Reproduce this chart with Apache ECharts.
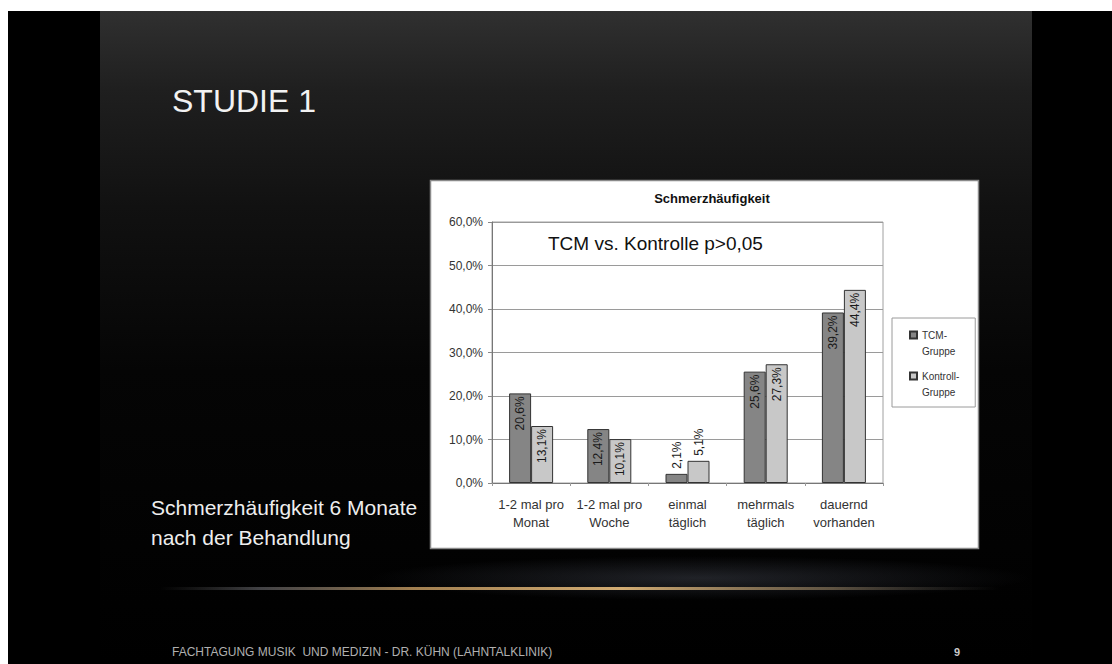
<!DOCTYPE html>
<html>
<head>
<meta charset="utf-8">
<script src="https://cdn.jsdelivr.net/npm/echarts@6/dist/echarts.min.js"></script>
<style>
  html, body { margin: 0; padding: 0; background: #ffffff; }
  #chart { width: 1112px; height: 664px; }
</style>
</head>
<body>
<div id="chart"></div>
<script>
// ---- data ----
const categories = ['1-2 mal pro\nMonat', '1-2 mal pro\nWoche', 'einmal\ntäglich', 'mehrmals\ntäglich', 'dauernd\nvorhanden'];
const seriesNames = ['TCM-Gruppe', 'Kontroll-Gruppe'];
const tcmValues = [20.6, 12.4, 2.1, 25.6, 39.2];
const kontrollValues = [13.1, 10.1, 5.1, 27.3, 44.4];
const yTickLabels = ['0,0%', '10,0%', '20,0%', '30,0%', '40,0%', '50,0%', '60,0%'];
const chartTitle = 'Schmerzhäufigkeit';
const annotation = 'TCM vs. Kontrolle p>0,05';
const slideTitle = 'STUDIE 1';
const captionLines = ['Schmerzhäufigkeit 6 Monate', 'nach der Behandlung'];
const footerText = 'FACHTAGUNG MUSIK  UND MEDIZIN - DR. KÜHN (LAHNTALKLINIK)';
const pageNumber = '9';

const FONT = '"Liberation Sans", Arial, sans-serif';
const fmtPct = v => v.toFixed(1).replace('.', ',') + '%';

function barData(values) {
  return values.map(v => {
    const outside = v < 8;
    return {
      value: v,
      label: outside
        ? { position: 'top', align: 'left', verticalAlign: 'middle', distance: 5 }
        : { position: 'insideTop', align: 'right', verticalAlign: 'middle', distance: 3 }
    };
  });
}

const chart = echarts.init(document.getElementById('chart'), null, { renderer: 'svg' });

const labelCommon = {
  show: true,
  rotate: 90,
  fontSize: 12,
  fontFamily: FONT,
  color: '#1a1a1a',
  formatter: p => fmtPct(p.value)
};

const option = {
  animation: false,
  backgroundColor: '#ffffff',
  title: {
    text: chartTitle,
    left: 707,
    top: 187,
    textAlign: 'center',
    textStyle: { fontSize: 13, fontWeight: 'bold', color: '#111', fontFamily: FONT }
  },
  legend: {
    orient: 'vertical',
    left: 892,
    top: 318,
    padding: [9, 16, 7, 17],
    icon: 'path://M0,0H7V7H0Z M0,23',
    itemWidth: 7,
    itemHeight: 23,
    itemGap: 9,
    borderColor: '#9a9a9a',
    borderWidth: 1,
    data: seriesNames,
    formatter: name => name.replace('-', '-\n'),
    textStyle: { fontSize: 10, lineHeight: 16, color: '#333', fontFamily: FONT }
  },
  grid: {
    left: 492,
    right: 1112 - 883,
    top: 222,
    bottom: 664 - 483,
    show: true,
    borderColor: '#a0a0a0',
    borderWidth: 1,
    backgroundColor: 'transparent'
  },
  xAxis: {
    type: 'category',
    data: categories,
    axisLine: { lineStyle: { color: '#777', width: 1 } },
    axisTick: { show: true, alignWithLabel: false, length: 3, lineStyle: { color: '#999' } },
    axisLabel: { fontSize: 13, lineHeight: 18, margin: 12, color: '#333', fontFamily: FONT, interval: 0 }
  },
  yAxis: {
    type: 'value',
    min: 0,
    max: 60,
    interval: 10,
    axisLine: { show: true, lineStyle: { color: '#777', width: 1 } },
    axisTick: { show: true, length: 4, lineStyle: { color: '#888' } },
    axisLabel: {
      fontSize: 12, margin: 9, color: '#333', fontFamily: FONT,
      formatter: v => yTickLabels[Math.round(v / 10)]
    },
    splitLine: { lineStyle: { color: '#9a9a9a', width: 1 } }
  },
  series: [
    {
      name: seriesNames[0],
      type: 'bar',
      data: barData(tcmValues),
      barWidth: 22,
      barGap: '0%',
      itemStyle: { color: '#858585', borderColor: '#333', borderWidth: 1 },
      label: labelCommon
    },
    {
      name: seriesNames[1],
      type: 'bar',
      data: barData(kontrollValues),
      barWidth: 22,
      barGap: '0%',
      itemStyle: { color: '#c8c8c8', borderColor: '#333', borderWidth: 1 },
      label: labelCommon
    }
  ],
  graphic: [
    // outer page
    { type: 'rect', z: -100, silent: true, shape: { x: 8, y: 11, width: 1104, height: 653 }, style: { fill: '#000' } },
    // slide background
    {
      type: 'rect', z: -99, silent: true,
      shape: { x: 100, y: 11, width: 932, height: 653 },
      style: {
        fill: new echarts.graphic.LinearGradient(0, 0, 0, 1, [
          { offset: 0, color: '#303030' },
          { offset: 0.12, color: '#1f1f1f' },
          { offset: 0.3, color: '#111111' },
          { offset: 0.55, color: '#050505' },
          { offset: 1, color: '#000000' }
        ])
      }
    },
    // haze above glow
    {
      type: 'ellipse', z: -98, silent: true,
      shape: { cx: 700, cy: 578, rx: 330, ry: 22 },
      style: {
        fill: new echarts.graphic.RadialGradient(0.5, 0.5, 0.5, [
          { offset: 0, color: 'rgba(90,95,110,0.35)' },
          { offset: 1, color: 'rgba(90,95,110,0)' }
        ])
      }
    },
    // glow line
    {
      type: 'rect', z: -97, silent: true,
      shape: { x: 160, y: 587, width: 840, height: 3 },
      style: {
        fill: new echarts.graphic.LinearGradient(0, 0, 1, 0, [
          { offset: 0, color: 'rgba(90,90,90,0)' },
          { offset: 0.12, color: 'rgba(110,110,115,0.6)' },
          { offset: 0.3, color: 'rgba(190,150,95,0.85)' },
          { offset: 0.55, color: 'rgba(220,180,120,0.95)' },
          { offset: 0.8, color: 'rgba(150,130,100,0.6)' },
          { offset: 1, color: 'rgba(90,90,90,0)' }
        ])
      }
    },
    // chart box
    {
      type: 'rect', z: -90, silent: true,
      shape: { x: 430.5, y: 180.5, width: 548, height: 368 },
      style: { fill: '#ffffff', stroke: '#8a8a8a', lineWidth: 1.5 }
    },
    // slide title
    {
      type: 'text', z: 10, silent: true, x: 172, y: 101,
      style: { text: slideTitle, fill: '#f2f2f2', font: '32px ' + FONT, verticalAlign: 'middle', align: 'left' }
    },
    // caption
    {
      type: 'text', z: 10, silent: true, x: 151, y: 507,
      style: { text: captionLines[0], fill: '#eeeeee', font: '21px ' + FONT, verticalAlign: 'middle', align: 'left' }
    },
    {
      type: 'text', z: 10, silent: true, x: 151, y: 537,
      style: { text: captionLines[1], fill: '#eeeeee', font: '21px ' + FONT, verticalAlign: 'middle', align: 'left' }
    },
    // footer
    {
      type: 'text', z: 10, silent: true, x: 172, y: 652,
      style: { text: footerText, fill: '#b0b0b0', font: '12px ' + FONT, verticalAlign: 'middle', align: 'left' }
    },
    {
      type: 'text', z: 10, silent: true, x: 957, y: 652,
      style: { text: pageNumber, fill: '#cccccc', font: 'bold 11px ' + FONT, verticalAlign: 'middle', align: 'center' }
    },
    // annotation inside chart
    {
      type: 'text', z: 10, silent: true, x: 548, y: 243,
      style: { text: annotation, fill: '#111111', font: '19px ' + FONT, verticalAlign: 'middle', align: 'left' }
    }
  ]
};

chart.setOption(option);
</script>
</body>
</html>
